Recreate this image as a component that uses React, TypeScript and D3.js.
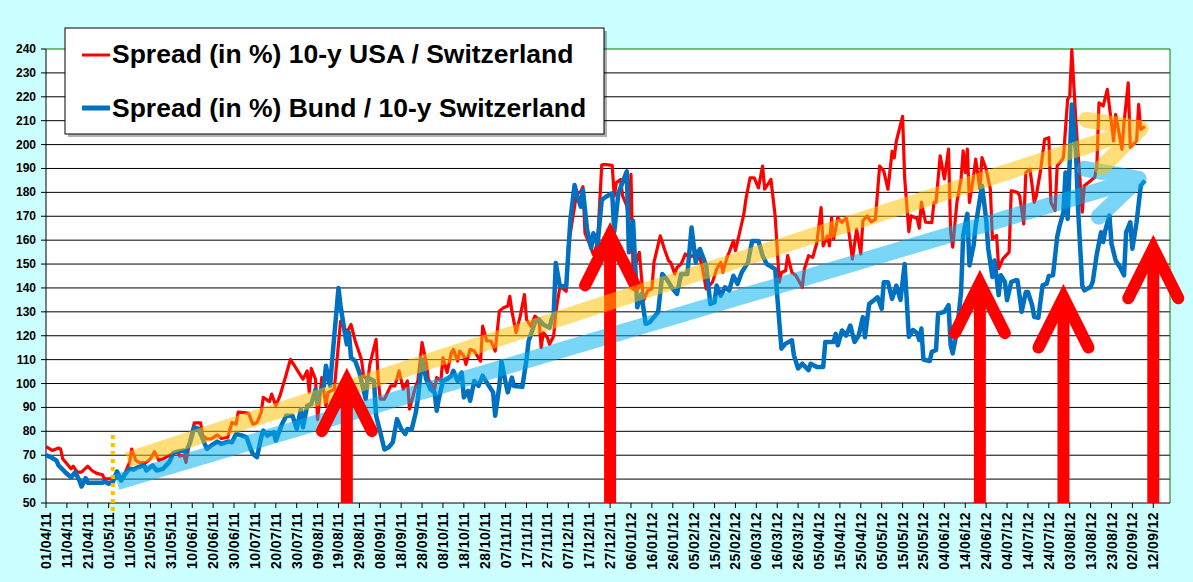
import * as d3 from 'd3'

// ---- data ----
const usaDates = [
  '01/04/11', '04/04/11', '07/04/11', '08/04/11', '09/04/11', '13/04/11', '14/04/11', '16/04/11', '18/04/11', '21/04/11',
  '23/04/11', '25/04/11', '28/04/11', '29/04/11', '02/05/11', '04/05/11', '07/05/11', '09/05/11', '11/05/11', '12/05/11',
  '14/05/11', '16/05/11', '19/05/11', '21/05/11', '23/05/11', '25/05/11', '27/05/11', '30/05/11', '01/06/11', '03/06/11',
  '04/06/11', '06/06/11', '07/06/11', '09/06/11', '11/06/11', '14/06/11', '15/06/11', '17/06/11', '19/06/11', '22/06/11',
  '24/06/11', '27/06/11', '29/06/11', '01/07/11', '02/07/11', '05/07/11', '07/07/11', '09/07/11', '11/07/11', '13/07/11',
  '14/07/11', '17/07/11', '18/07/11', '20/07/11', '22/07/11', '25/07/11', '27/07/11', '29/07/11', '31/07/11', '02/08/11',
  '04/08/11', '05/08/11', '06/08/11', '08/08/11', '09/08/11', '11/08/11', '13/08/11', '14/08/11', '17/08/11', '20/08/11',
  '23/08/11', '25/08/11', '27/08/11', '30/08/11', '31/08/11', '02/09/11', '03/09/11', '06/09/11', '07/09/11', '08/09/11',
  '10/09/11', '13/09/11', '15/09/11', '17/09/11', '19/09/11', '21/09/11', '22/09/11', '25/09/11', '26/09/11', '28/09/11',
  '30/09/11', '01/10/11', '04/10/11', '05/10/11', '07/10/11', '08/10/11', '10/10/11', '12/10/11', '13/10/11', '15/10/11',
  '16/10/11', '18/10/11', '19/10/11', '21/10/11', '23/10/11', '26/10/11', '27/10/11', '29/10/11', '31/10/11', '02/11/11',
  '04/11/11', '06/11/11', '08/11/11', '09/11/11', '10/11/11', '12/11/11', '14/11/11', '16/11/11', '17/11/11', '19/11/11',
  '21/11/11', '23/11/11', '24/11/11', '25/11/11', '27/11/11', '28/11/11', '30/11/11', '01/12/11', '03/12/11', '06/12/11',
  '07/12/11', '09/12/11', '11/12/11', '13/12/11', '14/12/11', '15/12/11', '17/12/11', '19/12/11', '21/12/11', '23/12/11',
  '24/12/11', '28/12/11', '29/12/11', '30/12/11', '01/01/12', '02/01/12', '04/01/12', '05/01/12', '06/01/12', '07/01/12',
  '09/01/12', '10/01/12', '12/01/12', '14/01/12', '16/01/12', '17/01/12', '20/01/12', '22/01/12', '24/01/12', '25/01/12',
  '27/01/12', '28/01/12', '30/01/12', '01/02/12', '03/02/12', '06/02/12', '07/02/12', '09/02/12', '11/02/12', '14/02/12',
  '16/02/12', '18/02/12', '19/02/12', '21/02/12', '22/02/12', '24/02/12', '25/02/12', '27/02/12', '29/02/12', '01/03/12',
  '03/03/12', '05/03/12', '07/03/12', '09/03/12', '10/03/12', '13/03/12', '15/03/12', '17/03/12', '18/03/12', '20/03/12',
  '21/03/12', '23/03/12', '25/03/12', '28/03/12', '29/03/12', '31/03/12', '02/04/12', '04/04/12', '06/04/12', '07/04/12',
  '09/04/12', '10/04/12', '11/04/12', '12/04/12', '14/04/12', '16/04/12', '18/04/12', '19/04/12', '21/04/12', '23/04/12',
  '25/04/12', '26/04/12', '28/04/12', '30/04/12', '02/05/12', '04/05/12', '06/05/12', '08/05/12', '10/05/12', '11/05/12',
  '12/05/12', '15/05/12', '16/05/12', '18/05/12', '19/05/12', '22/05/12', '23/05/12', '24/05/12', '26/05/12', '29/05/12',
  '30/05/12', '31/05/12', '02/06/12', '04/06/12', '06/06/12', '07/06/12', '08/06/12', '10/06/12', '12/06/12', '13/06/12',
  '14/06/12', '15/06/12', '16/06/12', '18/06/12', '19/06/12', '21/06/12', '22/06/12', '24/06/12', '26/06/12', '27/06/12',
  '29/06/12', '30/06/12', '02/07/12', '05/07/12', '06/07/12', '09/07/12', '10/07/12', '12/07/12', '13/07/12', '15/07/12',
  '17/07/12', '18/07/12', '20/07/12', '22/07/12', '24/07/12', '25/07/12', '27/07/12', '28/07/12', '30/07/12', '31/07/12',
  '02/08/12', '03/08/12', '04/08/12', '06/08/12', '09/08/12', '10/08/12', '13/08/12', '15/08/12', '16/08/12', '17/08/12',
  '19/08/12', '21/08/12', '24/08/12', '25/08/12', '28/08/12', '29/08/12', '31/08/12', '01/09/12', '04/09/12', '05/09/12',
  '06/09/12', '08/09/12',
]
const usaValues = [
  73.6, 72, 73, 72.6, 68.5, 64.3, 65.4, 62.9, 62.9, 65.4,
  63.6, 62.5, 61.8, 60.1, 60.1, 61.5, 60, 62.9, 67, 72.6,
  67.8, 66.8, 67, 68.5, 71.5, 67.8, 68.5, 69.9, 71, 71.5,
  69.6, 70.1, 67, 76.8, 83.5, 83.5, 78.2, 76.8, 76.8, 78.5,
  77, 77.5, 83.7, 83, 88, 87.8, 87.5, 83, 83.7, 87.8,
  94.2, 92.4, 95.6, 90.7, 94.9, 103.9, 110.1, 107.4, 104.6, 101.8,
  105.3, 96.3, 106.3, 101.8, 85, 102.5, 90.7, 96.3, 97.6, 126,
  121.3, 124.7, 117.8, 110.1, 103.2, 101.1, 108, 118.5, 101.8, 93.5,
  93.5, 99, 99, 105.3, 97.6, 101.1, 89.3, 99, 101.1, 117.1,
  108.8, 101.8, 97.6, 102.5, 101.1, 110.8, 104.6, 112.9, 114.3, 109.4,
  113.6, 111.5, 108, 114.3, 113.6, 109.4, 124, 117.8, 117.8, 113.6,
  130.3, 131.7, 132.4, 136.5, 130.3, 121.3, 128.2, 137.2, 126.8, 124,
  128.2, 126.8, 115, 121.3, 119.2, 116.4, 119.9, 129.6, 140.7, 138.6,
  157.4, 168.5, 179.6, 180.3, 182.4, 162.9, 158.8, 153.9, 158.8, 191.4,
  191.7, 191.3, 178.5, 184, 185.4, 178.5, 174.3, 168.8, 187.5, 146.5,
  152.1, 154.9, 134.7, 138.9, 139.6, 150.7, 161.8, 156.3, 151.4, 150.7,
  145.8, 148.6, 150, 154.2, 152.8, 154.2, 155.6, 149.3, 139.6, 142.4,
  147.9, 150.7, 146.5, 152.8, 154.9, 159.7, 155.6, 163.2, 170.8, 177.1,
  186.1, 186.1, 181.9, 191, 181.3, 185.4, 170.1, 142.4, 146.5, 147.2,
  153.5, 146.5, 145.1, 140.3, 147.9, 153.5, 152.8, 159, 173.6, 157.6,
  161.8, 157.6, 169.4, 160.4, 169.4, 167.4, 169.4, 165.3, 152.1, 164.6,
  154.2, 168.1, 170.1, 167.6, 168.8, 191, 188.9, 181.3, 197.2, 194.4,
  201.4, 211.8, 186, 163.6, 170.2, 169, 165, 175.8, 167.5, 167.3,
  175.8, 175.8, 195.3, 185.6, 198.1, 163.3, 157.1, 175.8, 185.6, 197.4,
  188.3, 198.1, 175.8, 187, 193.9, 181.4, 194.6, 189.7, 181.4, 160.6,
  162, 148.1, 152.2, 155, 180.7, 180, 178.6, 166.8, 188.3, 189.7,
  175.8, 178.6, 189, 202.2, 202.9, 175.8, 172.4, 191.1, 193.2, 194.6,
  218.9, 220.3, 239.7, 209.2, 171.7, 182.8, 184.9, 186.3, 191.1, 217.5,
  216.1, 223.1, 201.5, 212.6, 198.1, 209.2, 225.8, 198.8, 201.5, 216.8,
  206.4, 207.5,
]

const bundDates = [
  '01/04/11', '04/04/11', '06/04/11', '07/04/11', '09/04/11', '11/04/11', '13/04/11', '15/04/11', '17/04/11', '18/04/11',
  '20/04/11', '21/04/11', '25/04/11', '28/04/11', '29/04/11', '01/05/11', '03/05/11', '05/05/11', '07/05/11', '09/05/11',
  '11/05/11', '13/05/11', '15/05/11', '18/05/11', '19/05/11', '22/05/11', '24/05/11', '27/05/11', '30/05/11', '01/06/11',
  '03/06/11', '06/06/11', '07/06/11', '09/06/11', '11/06/11', '13/06/11', '15/06/11', '17/06/11', '19/06/11', '22/06/11',
  '24/06/11', '27/06/11', '29/06/11', '01/07/11', '04/07/11', '06/07/11', '08/07/11', '09/07/11', '11/07/11', '13/07/11',
  '14/07/11', '16/07/11', '19/07/11', '20/07/11', '23/07/11', '25/07/11', '28/07/11', '30/07/11', '01/08/11', '02/08/11',
  '04/08/11', '06/08/11', '08/08/11', '09/08/11', '10/08/11', '12/08/11', '13/08/11', '15/08/11', '16/08/11', '19/08/11',
  '20/08/11', '22/08/11', '23/08/11', '24/08/11', '25/08/11', '27/08/11', '29/08/11', '01/09/11', '02/09/11', '05/09/11',
  '06/09/11', '08/09/11', '10/09/11', '12/09/11', '14/09/11', '16/09/11', '18/09/11', '20/09/11', '21/09/11', '23/09/11',
  '25/09/11', '26/09/11', '28/09/11', '30/09/11', '02/10/11', '04/10/11', '05/10/11', '06/10/11', '08/10/11', '10/10/11',
  '12/10/11', '13/10/11', '15/10/11', '17/10/11', '18/10/11', '20/10/11', '21/10/11', '23/10/11', '25/10/11', '27/10/11',
  '29/10/11', '01/11/11', '02/11/11', '04/11/11', '05/11/11', '07/11/11', '08/11/11', '10/11/11', '11/11/11', '15/11/11',
  '17/11/11', '18/11/11', '21/11/11', '23/11/11', '25/11/11', '28/11/11', '29/11/11', '30/11/11', '01/12/11', '03/12/11',
  '06/12/11', '08/12/11', '10/12/11', '11/12/11', '13/12/11', '14/12/11', '16/12/11', '18/12/11', '19/12/11', '21/12/11',
  '23/12/11', '25/12/11', '28/12/11', '29/12/11', '31/12/11', '04/01/12', '05/01/12', '07/01/12', '09/01/12', '11/01/12',
  '13/01/12', '15/01/12', '19/01/12', '21/01/12', '23/01/12', '26/01/12', '28/01/12', '30/01/12', '02/02/12', '04/02/12',
  '06/02/12', '08/02/12', '11/02/12', '13/02/12', '15/02/12', '16/02/12', '18/02/12', '20/02/12', '22/02/12', '24/02/12',
  '26/02/12', '28/02/12', '02/03/12', '04/03/12', '07/03/12', '09/03/12', '11/03/12', '15/03/12', '16/03/12', '18/03/12',
  '20/03/12', '23/03/12', '24/03/12', '26/03/12', '28/03/12', '31/03/12', '01/04/12', '04/04/12', '07/04/12', '08/04/12',
  '12/04/12', '13/04/12', '14/04/12', '16/04/12', '18/04/12', '20/04/12', '22/04/12', '24/04/12', '26/04/12', '27/04/12',
  '29/04/12', '02/05/12', '03/05/12', '05/05/12', '06/05/12', '08/05/12', '10/05/12', '12/05/12', '14/05/12', '16/05/12',
  '18/05/12', '20/05/12', '22/05/12', '23/05/12', '24/05/12', '25/05/12', '28/05/12', '29/05/12', '31/05/12', '01/06/12',
  '04/06/12', '06/06/12', '07/06/12', '08/06/12', '10/06/12', '12/06/12', '13/06/12', '15/06/12', '16/06/12', '18/06/12',
  '19/06/12', '22/06/12', '24/06/12', '25/06/12', '27/06/12', '28/06/12', '30/06/12', '01/07/12', '03/07/12', '04/07/12',
  '06/07/12', '08/07/12', '09/07/12', '11/07/12', '13/07/12', '14/07/12', '16/07/12', '17/07/12', '19/07/12', '21/07/12',
  '23/07/12', '24/07/12', '26/07/12', '28/07/12', '29/07/12', '31/07/12', '01/08/12', '02/08/12', '04/08/12', '06/08/12',
  '07/08/12', '09/08/12', '10/08/12', '13/08/12', '14/08/12', '16/08/12', '18/08/12', '19/08/12', '20/08/12', '22/08/12',
  '23/08/12', '25/08/12', '27/08/12', '29/08/12', '30/08/12', '01/09/12', '02/09/12', '04/09/12', '06/09/12', '08/09/12',
]
const bundValues = [
  70.1, 68.8, 67.8, 65.7, 64, 62.2, 60.8, 62.9, 59.4, 56.9,
  60.4, 58.5, 58.5, 58.5, 59, 58.1, 58.8, 63.2, 59.4, 62.2,
  64.3, 64, 65, 65.7, 63.6, 65.7, 63.6, 64.3, 67.1, 71,
  71.5, 72, 71.3, 75.4, 81.7, 81, 76.8, 72.6, 74, 75.7,
  74.7, 75.7, 75.4, 78.9, 78.2, 77.5, 72.6, 70.6, 69.2, 77.5,
  80.3, 78.2, 79.6, 76.1, 83.1, 86.5, 86.5, 81, 89.3, 81.7,
  90.7, 91.4, 97.6, 92, 96.3, 99, 107.4, 99, 110.1, 140,
  132.4, 121.3, 116.4, 121.3, 110.8, 109.4, 104.6, 93.5, 102.5, 101.1,
  86.5, 79.6, 72.4, 73.3, 75.4, 85.1, 81, 78.9, 81, 80.7,
  87.9, 93.5, 110.1, 101.8, 97.6, 96.3, 88.6, 93.5, 101.1, 101.8,
  103.2, 105.3, 101.1, 104.6, 94.2, 96.9, 92.8, 101.1, 99, 103.2,
  100.4, 96.3, 86.5, 99, 109.4, 100.4, 96.3, 102.5, 99, 98.6,
  110.1, 117.8, 125.4, 126.8, 124.7, 123.3, 126.8, 128.9, 150.4, 140.7,
  140.7, 168.5, 183.1, 179.6, 174, 181, 164.3, 156.7, 162.9, 158.1,
  176.8, 178.2, 179.6, 163.6, 179.6, 188.8, 154.9, 168.1, 131.9, 137.5,
  125, 125.7, 129.9, 145.8, 143.8, 139.6, 137.5, 145.8, 145.8, 165.3,
  150.7, 156.3, 149.3, 133.3, 134, 141, 136.8, 140.3, 138.9, 145.1,
  141.7, 146.5, 150.7, 159.7, 159.7, 153.5, 150, 147.9, 136.8, 114.6,
  116.7, 118.1, 111.8, 106.3, 108.3, 105.6, 108.3, 106.9, 106.9, 117.4,
  117.4, 120.8, 116, 122.2, 120.1, 124.3, 117.4, 120.1, 127.8, 119.4,
  133.3, 135.4, 136.1, 131.3, 142.4, 142.4, 135.4, 141, 135, 150,
  119.5, 122.4, 121, 118.2, 123, 110, 109.4, 113.3, 114, 129.3,
  130, 132.8, 116.1, 112.6, 121.7, 138.3, 161.9, 171, 149.4, 157.8,
  166.1, 182.8, 168.9, 156.4, 144.6, 151.5, 137, 145.3, 142.5, 134.9,
  142.5, 143.2, 143.2, 130, 138.3, 138.3, 132.8, 127.9, 127.5, 141.1,
  141.8, 145, 145.3, 161.3, 165.4, 171.7, 188.3, 168.9, 216.8, 196.7,
  173.1, 141.1, 139, 140.4, 142.5, 154.3, 163.3, 159.2, 164, 170.3,
  158.5, 151.5, 148.8, 145.3, 163.3, 167.5, 156.4, 167.5, 182.8, 184.9,
]

const xTickLabels = [
  '01/04/11', '11/04/11', '21/04/11', '01/05/11', '11/05/11', '21/05/11', '31/05/11', '10/06/11', '20/06/11', '30/06/11',
  '10/07/11', '20/07/11', '30/07/11', '09/08/11', '19/08/11', '29/08/11', '08/09/11', '18/09/11', '28/09/11', '08/10/11',
  '18/10/11', '28/10/11', '07/11/11', '17/11/11', '27/11/11', '07/12/11', '17/12/11', '27/12/11', '06/01/12', '16/01/12',
  '26/01/12', '05/02/12', '15/02/12', '25/02/12', '06/03/12', '16/03/12', '26/03/12', '05/04/12', '15/04/12', '25/04/12',
  '05/05/12', '15/05/12', '25/05/12', '04/06/12', '14/06/12', '24/06/12', '04/07/12', '14/07/12', '24/07/12', '03/08/12',
  '13/08/12', '23/08/12', '02/09/12', '12/09/12',
]
const axisEnd = '20/09/12'
const yTicks = [50, 60, 70, 80, 90, 100, 110, 120, 130, 140, 150, 160, 170, 180, 190, 200, 210, 220, 230, 240]

const seriesNames = ['Spread (in %) 10-y USA / Switzerland', 'Spread (in %) Bund / 10-y Switzerland']

// annotations: red "up" arrows (date, tip value)
const upArrowDates = ['23/08/11', '27/12/11', '21/06/12', '31/07/12', '12/09/12']
const upArrowTips = [101, 162, 142, 136, 156.6]
// translucent trend arrows (blue first, orange drawn later)
const trendStartDates = ['05/05/11', '10/05/11']
const trendStartValues = [58.8, 68]
const trendEndDates = ['05/09/12', '06/09/12']
const trendEndValues = [185.7, 206.8]
const trendColors = ['#00B0F0', '#FFC000']
const markerDate = '03/05/11'
const markerTop = 78.5

const W = 1193
const H = 582
const M = { left: 46, right: 1170, top: 49, bottom: 503 }
const FONT = '"Liberation Sans", Arial, sans-serif'

const parse = d3.timeParse('%d/%m/%y')

export default function App() {
  const x = d3.scaleTime()
    .domain([parse(xTickLabels[0]) as Date, parse(axisEnd) as Date])
    .range([M.left, M.right])
  const y = d3.scaleLinear().domain([50, 240]).range([M.bottom, M.top])

  type Pt = [Date, number]
  const usa: Pt[] = usaDates.map((d, i) => [parse(d) as Date, usaValues[i]] as Pt).filter(p => p[1] != null)
  const bund: Pt[] = bundDates.map((d, i) => [parse(d) as Date, bundValues[i]] as Pt).filter(p => p[1] != null)

  const line = d3.line<Pt>().x(d => x(d[0])).y(d => y(d[1]))

  const trends = trendColors.map((c, i) => {
    const sx = x(parse(trendStartDates[i]) as Date)
    const sy = y(trendStartValues[i])
    const ex = x(parse(trendEndDates[i]) as Date)
    const ey = y(trendEndValues[i])
    const back = Math.atan2(ey - sy, ex - sx) + Math.PI
    const L = 55
    const a = (27 * Math.PI) / 180
    const w1 = [ex + L * Math.cos(back - a), ey + L * Math.sin(back - a)]
    const w2 = [ex + L * Math.cos(back + a), ey + L * Math.sin(back + a)]
    return {
      color: c,
      shaft: `M${sx},${sy}L${ex},${ey}`,
      head: `M${w1[0]},${w1[1]}L${ex},${ey}L${w2[0]},${w2[1]}`,
    }
  })

  const arrows = upArrowDates.map((d, i) => {
    const px = x(parse(d) as Date)
    const ty = y(upArrowTips[i])
    return (
      <g key={d} stroke="#FF0000" strokeWidth={12} fill="none">
        <path d={`M${px},${M.bottom}V${ty + 6}`} />
        <path d={`M${px - 25},${ty + 50}L${px},${ty}L${px + 25},${ty + 50}`} strokeLinecap="round" strokeLinejoin="miter" />
      </g>
    )
  })

  const band = (t: typeof trends[number]) => (
    <g key={t.color} opacity={0.52}>
      <path d={t.shaft} fill="none" stroke={t.color} strokeWidth={16} strokeLinecap="butt" />
      <path d={t.head} fill="none" stroke={t.color} strokeWidth={16} strokeLinecap="round" strokeLinejoin="round" />
    </g>
  )

  const mx = x(parse(markerDate) as Date)

  return (
    <svg width={W} height={H} style={{ position: 'absolute', left: 0, top: 0 }} fontFamily={FONT}>
      <rect x={0} y={0} width={W} height={H} fill="#CCFFFF" />
      <rect x={M.left} y={M.top} width={M.right - M.left} height={M.bottom - M.top} fill="#fff" />

      {/* gridlines */}
      {yTicks.filter(v => v > 50 && v < 240).map(v => (
        <line key={v} x1={M.left} x2={M.right} y1={y(v)} y2={y(v)} stroke="#000" strokeWidth={1} />
      ))}
      {/* plot border (top/right) */}
      <path d={`M${M.left},${M.top}H${M.right}V${M.bottom}`} fill="none" stroke="#008000" strokeWidth={1} />

      {/* axes */}
      <line x1={M.left} x2={M.left} y1={M.top} y2={M.bottom} stroke="#000" />
      <line x1={M.left} x2={M.right} y1={M.bottom} y2={M.bottom} stroke="#000" />
      {yTicks.map(v => (
        <g key={v}>
          <line x1={M.left - 5} x2={M.left} y1={y(v)} y2={y(v)} stroke="#000" />
          <text x={36} y={y(v)} textAnchor="end" dominantBaseline="central" fontSize={12} fontWeight="bold">{v}</text>
        </g>
      ))}
      {xTickLabels.map(t => {
        const px = x(parse(t) as Date)
        return (
          <g key={t}>
            <line x1={px} x2={px} y1={M.bottom} y2={M.bottom + 5} stroke="#000" />
            <text transform={`translate(${px},512) rotate(-90)`} textAnchor="end" dominantBaseline="central"
              fontSize={14} fontWeight="bold" letterSpacing={0.4}>{t}</text>
          </g>
        )
      })}

      {/* series */}
      <path d={line(usa) ?? ''} fill="none" stroke="#FF0000" strokeWidth={3.2} strokeLinejoin="round" />
      <path d={line(bund) ?? ''} fill="none" stroke="#0070C0" strokeWidth={4.5} strokeLinejoin="round" />

      {/* blue trend band, then most red arrows, then orange band, then first arrow */}
      {band(trends[0])}
      {arrows.slice(1)}
      {band(trends[1])}
      {arrows[0]}

      {/* dotted start marker */}
      <line x1={mx} x2={mx} y1={y(markerTop)} y2={M.bottom + 9} stroke="#FFC000" strokeWidth={4} strokeDasharray="4 4" />

      {/* legend */}
      <rect x={68} y={31} width={539} height={106} fill="#000" opacity={0.3} />
      <rect x={65} y={28} width={539} height={106} fill="#fff" stroke="#000" strokeWidth={1} />
      <line x1={82} x2={110} y1={55} y2={55} stroke="#FF0000" strokeWidth={3} />
      <text x={112} y={63} fontSize={26.5} fontWeight="bold" fill="#000">{seriesNames[0]}</text>
      <line x1={82} x2={110} y1={108} y2={108} stroke="#0070C0" strokeWidth={5} />
      <text x={112} y={117} fontSize={26.5} fontWeight="bold" fill="#000">{seriesNames[1]}</text>
    </svg>
  )
}
